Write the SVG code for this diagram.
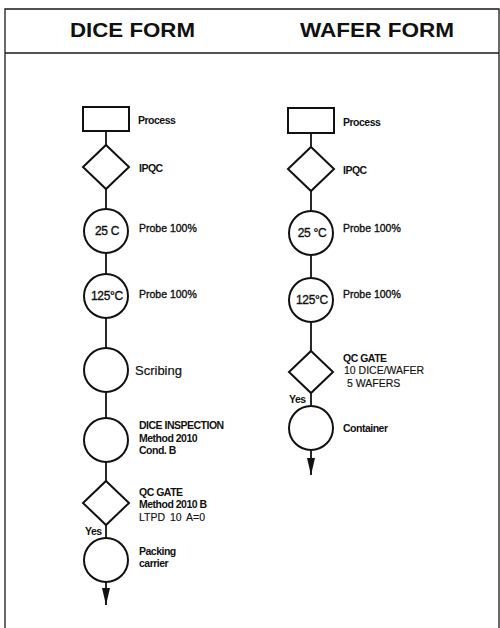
<svg xmlns="http://www.w3.org/2000/svg" width="500" height="628" viewBox="0 0 500 628">
<defs>
<style>
.frame{fill:none;stroke:#1a1a1a;stroke-width:1.3}
.shape{fill:#fff;stroke:#111;stroke-width:2}
.conn{fill:none;stroke:#111;stroke-width:1.8}
.hdr{font-family:"Liberation Sans",Arial,sans-serif;font-weight:bold;font-size:20px;fill:#111}
.lb{font-family:"Liberation Sans",Arial,sans-serif;font-weight:bold;font-size:10.5px;letter-spacing:-0.5px;fill:#111}
.lr{font-family:"Liberation Sans",Arial,sans-serif;font-size:10.5px;fill:#111;stroke:#111;stroke-width:0.35}
.big{font-family:"Liberation Sans",Arial,sans-serif;font-size:13px;fill:#111;stroke:#111;stroke-width:0.2}
.ct{font-family:"Liberation Sans",Arial,sans-serif;font-size:12px;letter-spacing:-0.3px;fill:#111;stroke:#111;stroke-width:0.35;text-anchor:middle}
</style>
<marker id="arr" markerUnits="userSpaceOnUse" markerWidth="18" markerHeight="8" refX="17" refY="4" orient="auto">
<path d="M0,0 L17,4 L0,8 z" fill="#111"/>
</marker>
</defs>
<rect width="500" height="628" fill="#fff"/>
<g id="frame">
<path class="frame" d="M5,628 V9 H499 V628"/>
<line class="frame" x1="5" y1="53" x2="499" y2="53"/>
<text class="hdr" x="70" y="37" textLength="125" lengthAdjust="spacingAndGlyphs">DICE FORM</text>
<text class="hdr" x="300" y="37" textLength="154" lengthAdjust="spacingAndGlyphs">WAFER FORM</text>
</g>
<g id="connectors">
<line class="conn" x1="106" y1="131" x2="106" y2="145"/>
<line class="conn" x1="106" y1="189" x2="106" y2="209"/>
<line class="conn" x1="106" y1="253" x2="106" y2="274"/>
<line class="conn" x1="106" y1="318" x2="106" y2="348"/>
<line class="conn" x1="106" y1="392" x2="106" y2="418"/>
<line class="conn" x1="106" y1="462" x2="106" y2="481"/>
<line class="conn" x1="106" y1="525" x2="106" y2="538"/>
<line class="conn" x1="106" y1="582" x2="106" y2="605" marker-end="url(#arr)"/>
<line class="conn" x1="311" y1="133" x2="311" y2="147"/>
<line class="conn" x1="311" y1="191" x2="311" y2="211"/>
<line class="conn" x1="311" y1="255" x2="311" y2="278"/>
<line class="conn" x1="311" y1="322" x2="311" y2="351"/>
<line class="conn" x1="311" y1="393" x2="311" y2="406"/>
<line class="conn" x1="311" y1="450" x2="311" y2="475" marker-end="url(#arr)"/>
<text class="lb" x="85" y="535">Yes</text>
<text class="lb" x="289" y="403">Yes</text>
</g>
<g id="d-process">
<rect class="shape" x="83" y="107" width="46" height="24"/>
<text class="lb" x="138" y="124">Process</text>
</g>
<g id="d-ipqc">
<polygon class="shape" points="106,145 129,167 106,189 83,167"/>
<text class="lb" x="139" y="172">IPQC</text>
</g>
<g id="d-probe25">
<circle class="shape" cx="106" cy="231" r="22"/>
<text class="ct" x="107" y="235">25 C</text>
<text class="lr" x="139" y="232">Probe 100%</text>
</g>
<g id="d-probe125">
<circle class="shape" cx="106" cy="296" r="22"/>
<text class="ct" x="107" y="300">125°C</text>
<text class="lr" x="139" y="298">Probe 100%</text>
</g>
<g id="d-scribing">
<circle class="shape" cx="106" cy="370" r="22"/>
<text class="big" x="135" y="375">Scribing</text>
</g>
<g id="d-inspection">
<circle class="shape" cx="106" cy="440" r="22"/>
<text class="lb" x="139" y="429">DICE INSPECTION</text>
<text class="lb" x="139" y="442">Method 2010</text>
<text class="lb" x="139" y="454">Cond. B</text>
</g>
<g id="d-qcgate">
<polygon class="shape" points="106,481 129,503 106,525 83,503"/>
<text class="lb" x="139" y="496">QC GATE</text>
<text class="lb" x="139" y="508">Method 2010 B</text>
<text class="lr" x="139" y="521" word-spacing="2" style="stroke-width:0.15">LTPD 10 A=0</text>
</g>
<g id="d-packing">
<circle class="shape" cx="106" cy="560" r="22"/>
<text class="lb" x="139" y="555">Packing</text>
<text class="lb" x="139" y="567">carrier</text>
</g>
<g id="w-process">
<rect class="shape" x="288" y="108" width="46" height="25"/>
<text class="lb" x="343" y="126">Process</text>
</g>
<g id="w-ipqc">
<polygon class="shape" points="311,147 334,169 311,191 288,169"/>
<text class="lb" x="343" y="174">IPQC</text>
</g>
<g id="w-probe25">
<circle class="shape" cx="311" cy="233" r="22"/>
<text class="ct" x="312" y="237">25 °C</text>
<text class="lr" x="343" y="232">Probe 100%</text>
</g>
<g id="w-probe125">
<circle class="shape" cx="311" cy="300" r="22"/>
<text class="ct" x="312" y="304">125°C</text>
<text class="lr" x="343" y="298">Probe 100%</text>
</g>
<g id="w-qcgate">
<polygon class="shape" points="311,351 333,372 311,393 289,372"/>
<text class="lb" x="343" y="362">QC GATE</text>
<text class="lr" x="344" y="374" style="stroke-width:0.15">10 DICE/WAFER</text>
<text class="lr" x="347" y="387" style="stroke-width:0.15">5 WAFERS</text>
</g>
<g id="w-container">
<circle class="shape" cx="311" cy="428" r="22"/>
<text class="lb" x="343" y="432">Container</text>
</g>
</svg>
